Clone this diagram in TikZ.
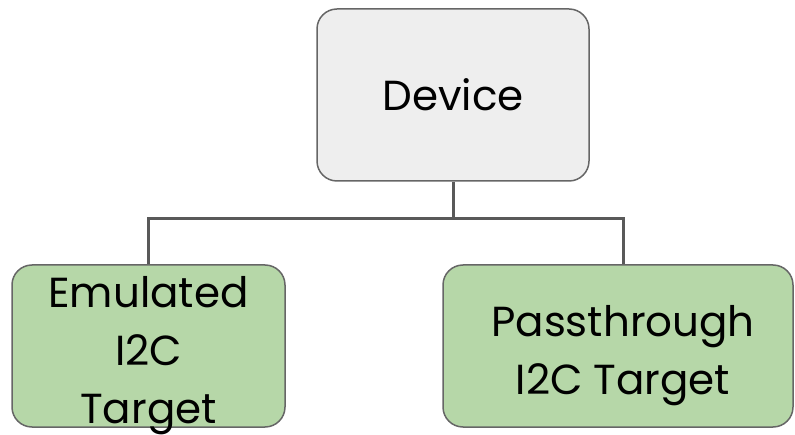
\documentclass[tikz,border=0pt]{standalone}
\usepackage{fontspec}
\setmainfont{Poppins}
\definecolor{devfill}{HTML}{EEEEEE}
\definecolor{tgtfill}{HTML}{B6D7A8}
\definecolor{boxline}{HTML}{666666}
\definecolor{connline}{HTML}{595959}
\begin{document}
\begin{tikzpicture}[x=1pt,y=-1pt,
  box/.style={draw=boxline, line width=1.5pt, rounded corners=20pt, inner sep=0pt},
  conn/.style={draw=connline, line width=3pt},
  lbl/.style={font=\fontsize{42}{58}\selectfont, align=center, text=black, inner sep=0pt}]
\useasboundingbox (0,0) rectangle (795,435);
\node[box, fill=devfill, minimum width=272pt, minimum height=172pt] (dev) at (453,95) {};
\node[lbl] (devt) at (dev.center) {Device};
\node[box, fill=tgtfill, minimum width=273pt, minimum height=162pt] (emu) at (148.5,346) {};
\node[lbl] (emut) at ([yshift=-10pt]emu.center) {Emulated\\I2C\\Target};
\node[box, fill=tgtfill, minimum width=350pt, minimum height=162pt] (pass) at (618,346) {};
\node[lbl] (passt) at ([xshift=5pt,yshift=-10pt]pass.center) {Passthrough\\I2C Target};
\coordinate (j) at (453,219);
\draw[conn] (dev.south) -- (j);
\draw[conn] (emu.north) |- (j) -| ([xshift=5pt]pass.north);
\end{tikzpicture}
\end{document}
